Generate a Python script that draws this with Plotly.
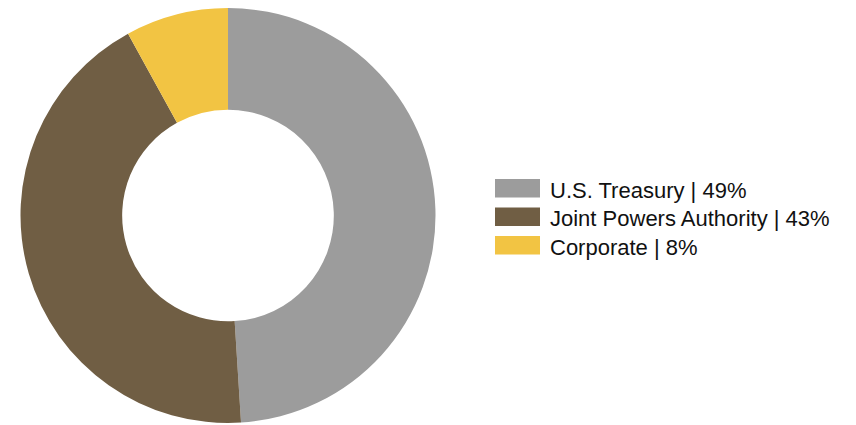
import plotly.graph_objects as go

# Portfolio composition by sector
sectors = ["U.S. Treasury", "Joint Powers Authority", "Corporate"]
shares = [49, 43, 8]
colors = ["#9c9c9c", "#705e44", "#f2c443"]

W, H = 856, 425

# donut geometry in pixels
cx, cy, r = 228, 215.5, 207.5


def px_x(x):
    return x / W


def px_y(y):
    return 1 - y / H


fig = go.Figure(
    go.Pie(
        labels=sectors,
        values=shares,
        marker=dict(colors=colors, line=dict(width=0)),
        hole=0.51,
        sort=False,
        direction="clockwise",
        rotation=0,
        textinfo="none",
        hoverinfo="label+percent",
        showlegend=False,
        domain=dict(x=[px_x(cx - r), px_x(cx + r)], y=[px_y(cy + r), px_y(cy - r)]),
    )
)

# legend drawn as swatches with labels
shapes = []
annotations = []
row0, step = 188.3, 28.5
for i, (name, val, col) in enumerate(zip(sectors, shares, colors)):
    yc = row0 + i * step
    shapes.append(
        dict(
            type="rect",
            xref="paper",
            yref="paper",
            x0=px_x(495),
            x1=px_x(540),
            y0=px_y(yc + 9.2),
            y1=px_y(yc - 9.2),
            fillcolor=col,
            line=dict(width=0),
        )
    )
    annotations.append(
        dict(
            xref="paper",
            yref="paper",
            x=px_x(548),
            y=px_y(yc + 2),
            xanchor="left",
            yanchor="middle",
            text=f"{name} | {val}%",
            showarrow=False,
            font=dict(family="Liberation Sans, Arial, sans-serif", size=22, color="#111111"),
        )
    )

fig.update_layout(
    width=W,
    height=H,
    margin=dict(l=0, r=0, t=0, b=0),
    paper_bgcolor="white",
    plot_bgcolor="white",
    shapes=shapes,
    annotations=annotations,
)

fig.write_html("out.html")
